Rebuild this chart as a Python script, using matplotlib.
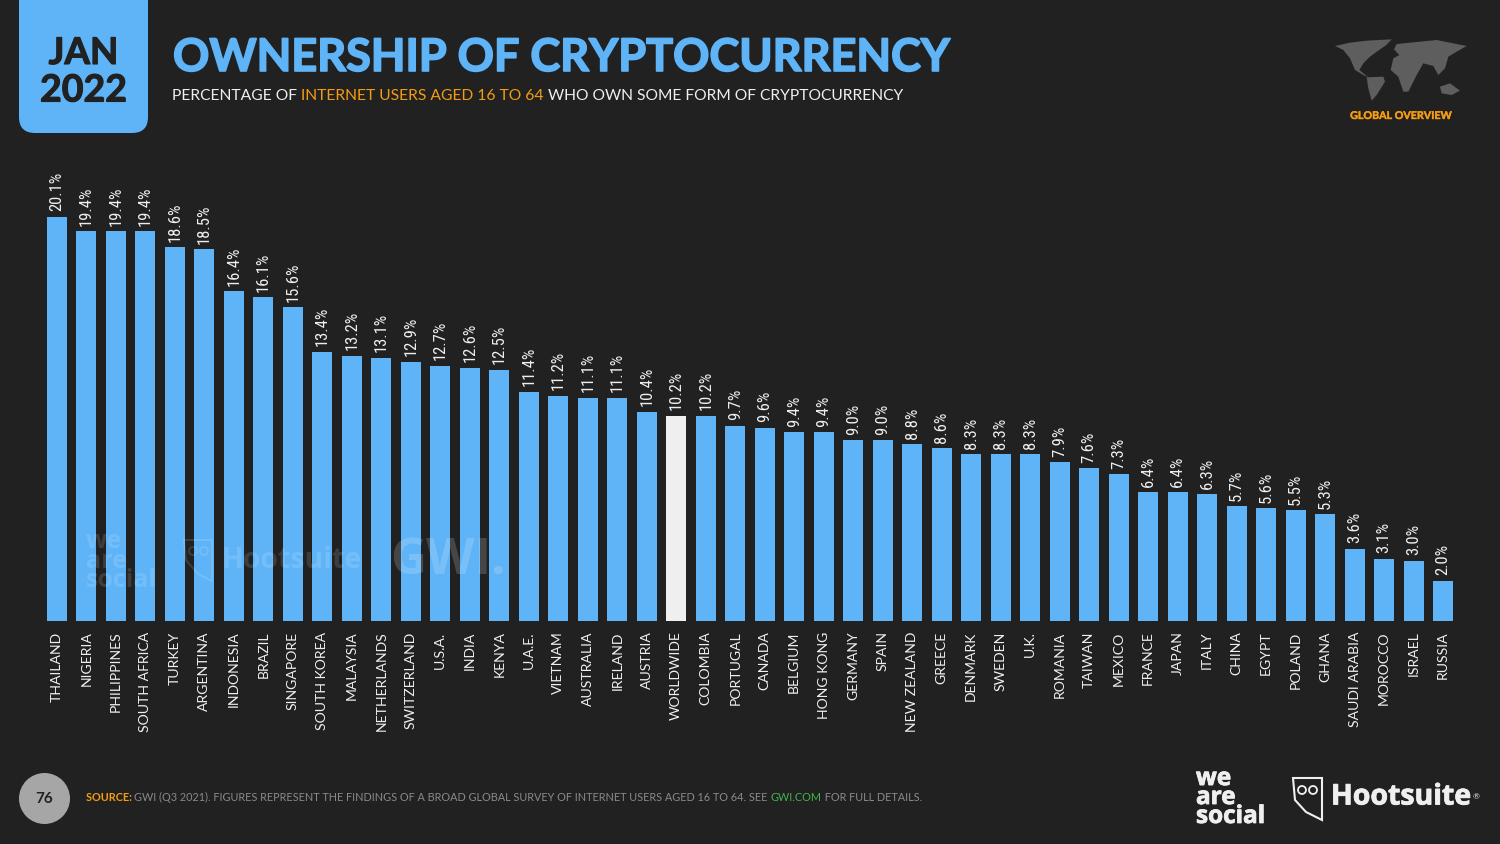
import matplotlib
matplotlib.use("Agg")
import logging
logging.getLogger("matplotlib.font_manager").setLevel(logging.ERROR)
import matplotlib.pyplot as plt
import matplotlib.patheffects as pe
from matplotlib.patches import FancyBboxPatch, Circle, Polygon

categories = ["THAILAND","NIGERIA","PHILIPPINES","SOUTH AFRICA","TURKEY","ARGENTINA","INDONESIA","BRAZIL","SINGAPORE",
 "SOUTH KOREA","MALAYSIA","NETHERLANDS","SWITZERLAND","U.S.A.","INDIA","KENYA","U.A.E.","VIETNAM","AUSTRALIA","IRELAND",
 "AUSTRIA","WORLDWIDE","COLOMBIA","PORTUGAL","CANADA","BELGIUM","HONG KONG","GERMANY","SPAIN","NEW ZEALAND","GREECE",
 "DENMARK","SWEDEN","U.K.","ROMANIA","TAIWAN","MEXICO","FRANCE","JAPAN","ITALY","CHINA","EGYPT","POLAND","GHANA",
 "SAUDI ARABIA","MOROCCO","ISRAEL","RUSSIA"]
values = [20.1,19.4,19.4,19.4,18.6,18.5,16.4,16.1,15.6,13.4,13.2,13.1,12.9,12.7,12.6,12.5,11.4,11.2,11.1,11.1,10.4,10.2,
 10.2,9.7,9.6,9.4,9.4,9.0,9.0,8.8,8.6,8.3,8.3,8.3,7.9,7.6,7.3,6.4,6.4,6.3,5.7,5.6,5.5,5.3,3.6,3.1,3.0,2.0]
highlight = "WORLDWIDE"

BG="#212121"; BLUE="#5FB4F7"; ORANGE="#F39C12"; WHITE="#EFEFEF"; GREY="#8A8A8A"
W,H=1500,844
fig=plt.figure(figsize=(15,8.44),dpi=100,facecolor=BG)
def heavy(w,c):
    return [pe.withStroke(linewidth=w,foreground=c)]

L,R,T,B=42.25,1457.75,150,621
ax=fig.add_axes([L/W,1-B/H,(R-L)/W,(B-T)/H],zorder=1)
ax.patch.set_alpha(0)
x=list(range(len(categories)))
colors=[WHITE if c==highlight else BLUE for c in categories]
ax.bar(x,values,width=0.678,color=colors)
ax.set_xlim(-0.5,len(categories)-0.5); ax.set_ylim(0,(B-T)/20.1)
for s in ax.spines.values(): s.set_visible(False)
ax.set_yticks([])
ax.set_xticks(x,categories,rotation=90,fontsize=10.1,color=WHITE,family="Lato")
ax.tick_params(axis="x",length=0,pad=7.5)
for xi,v in zip(x,values):
    ax.annotate(f"{v:.1f}%",(xi,v),xytext=(0,4),textcoords="offset points",rotation=90,ha="center",va="bottom",
                fontsize=12,color=WHITE,family=["Roboto Condensed","Open Sans Condensed","Lato"])

ov=fig.add_axes([0,0,1,1],zorder=2); ov.set_xlim(0,W); ov.set_ylim(H,0); ov.axis("off"); ov.patch.set_alpha(0)

ov.add_patch(FancyBboxPatch((19,-30),129,163,boxstyle="round,pad=0,rounding_size=16",fc=BLUE,ec="none"))
ov.text(83.5,53.5,"JAN",ha="center",va="center",fontsize=26.5,fontweight="bold",family="Lato",color=BG,path_effects=heavy(0.8,BG))
ov.text(83.5,90.5,"2022",ha="center",va="center",fontsize=27,fontweight="bold",family="Lato",color=BG,path_effects=heavy(0.8,BG))

ov.text(173,58,"OWNERSHIP OF CRYPTOCURRENCY",ha="left",va="center",fontsize=32.4,fontweight="bold",family="Lato",color=BLUE,path_effects=heavy(1.2,BLUE))

r=fig.canvas.get_renderer()
cx=172
for s,c in [("PERCENTAGE OF ",WHITE),("INTERNET USERS AGED 16 TO 64 ",ORANGE),("WHO OWN SOME FORM OF CRYPTOCURRENCY",WHITE)]:
    t=ov.text(cx,96,s.replace(" ","\u00a0"),ha="left",va="center",fontsize=11.24,family="Lato",color=c)
    cx=t.get_window_extent(r).x1

# world map (schematic outline, drawn in crop units of 1/3 pixel from (1150,20))
MAP="#5E5E5E"
continents=[
 [(555,78),(600,68),(650,62),(725,58),(708,76),(680,95),(660,110),(640,130),(628,150),(655,172),(640,165),(615,150),(600,115),(580,90)],
 [(650,172),(700,170),(705,185),(680,225),(665,242),(655,205)],
 [(740,72),(800,66),(860,60),(950,78),(920,95),(895,110),(885,145),(865,165),(850,138),(820,130),(800,165),(775,215),(760,215),(745,170),(722,150),(730,115),(748,105),(732,88)],
 [(870,200),(900,190),(930,212),(905,225),(875,220)],
]
for poly in continents:
    ov.add_patch(Polygon([(1150+a/3,20+b/3) for a,b in poly],closed=True,fc=MAP,ec="none"))
ov.text(1400.5,115.5,"GLOBAL OVERVIEW",ha="center",va="center",fontsize=7.7,fontweight="bold",family="Lato",color=ORANGE,path_effects=heavy(0.3,ORANGE))

ov.add_patch(Circle((44.5,798.5),25.5,fc="#A6A6A6",ec="none"))
ov.text(44.5,799,"76",ha="center",va="center",fontsize=11,fontweight="bold",family="Lato",color=BG)

cx=86
for s,c,w in [("SOURCE: ",ORANGE,"bold"),("GWI (Q3 2021). FIGURES REPRESENT THE FINDINGS OF A BROAD GLOBAL SURVEY OF INTERNET USERS AGED 16 TO 64. SEE ",GREY,"normal"),
              ("GWI.COM",'#3FB54A',"normal"),(" FOR FULL DETAILS.",GREY,"normal")]:
    t=ov.text(cx,797.5,s.replace(" ","\u00a0"),ha="left",va="center",fontsize=7.83,family="Lato",fontweight=w,color=c)
    cx=t.get_window_extent(r).x1

ov.text(1196,798,"we\nare\nsocial",ha="left",va="center",fontsize=17.5,fontweight="bold",family="Open Sans",color=WHITE,linespacing=0.72,path_effects=heavy(0.6,WHITE))
ov.add_patch(Polygon([(1293,778),(1322,778),(1322,820),(1306,812),(1295,800)],closed=True,fc="none",ec=WHITE,lw=1.5))
ov.add_patch(Circle((1302,790),4,fc="none",ec=WHITE,lw=1.3)); ov.add_patch(Circle((1313,790),4,fc="none",ec=WHITE,lw=1.3))
ov.text(1331,797,"Hootsuite",ha="left",va="center",fontsize=20.5,fontweight="bold",family="Open Sans",color=WHITE,path_effects=heavy(0.6,WHITE))
ov.text(1473,797,"®",ha="left",va="center",fontsize=6,color=WHITE,family="Lato")

wm=dict(color="white",alpha=0.13,family="Open Sans",fontweight="bold")
ov.text(86,561,"we\nare\nsocial",ha="left",va="center",fontsize=18,linespacing=0.72,**wm)
ov.text(222,560,"Hootsuite",ha="left",va="center",fontsize=20.5,**wm)
ov.add_patch(Polygon([(184,540),(212,540),(212,581),(198,574),(186,560)],closed=True,fc="none",ec="white",alpha=0.13,lw=1.5))
ov.add_patch(Circle((193,551),4,fc="none",ec="white",alpha=0.13,lw=1.3)); ov.add_patch(Circle((204,551),4,fc="none",ec="white",alpha=0.13,lw=1.3))
ov.text(390,561,"GWI.",ha="left",va="center",fontsize=36,fontweight="bold",family="Open Sans",color="white",alpha=0.17)

fig.savefig("out.png",dpi=100,facecolor=BG)
